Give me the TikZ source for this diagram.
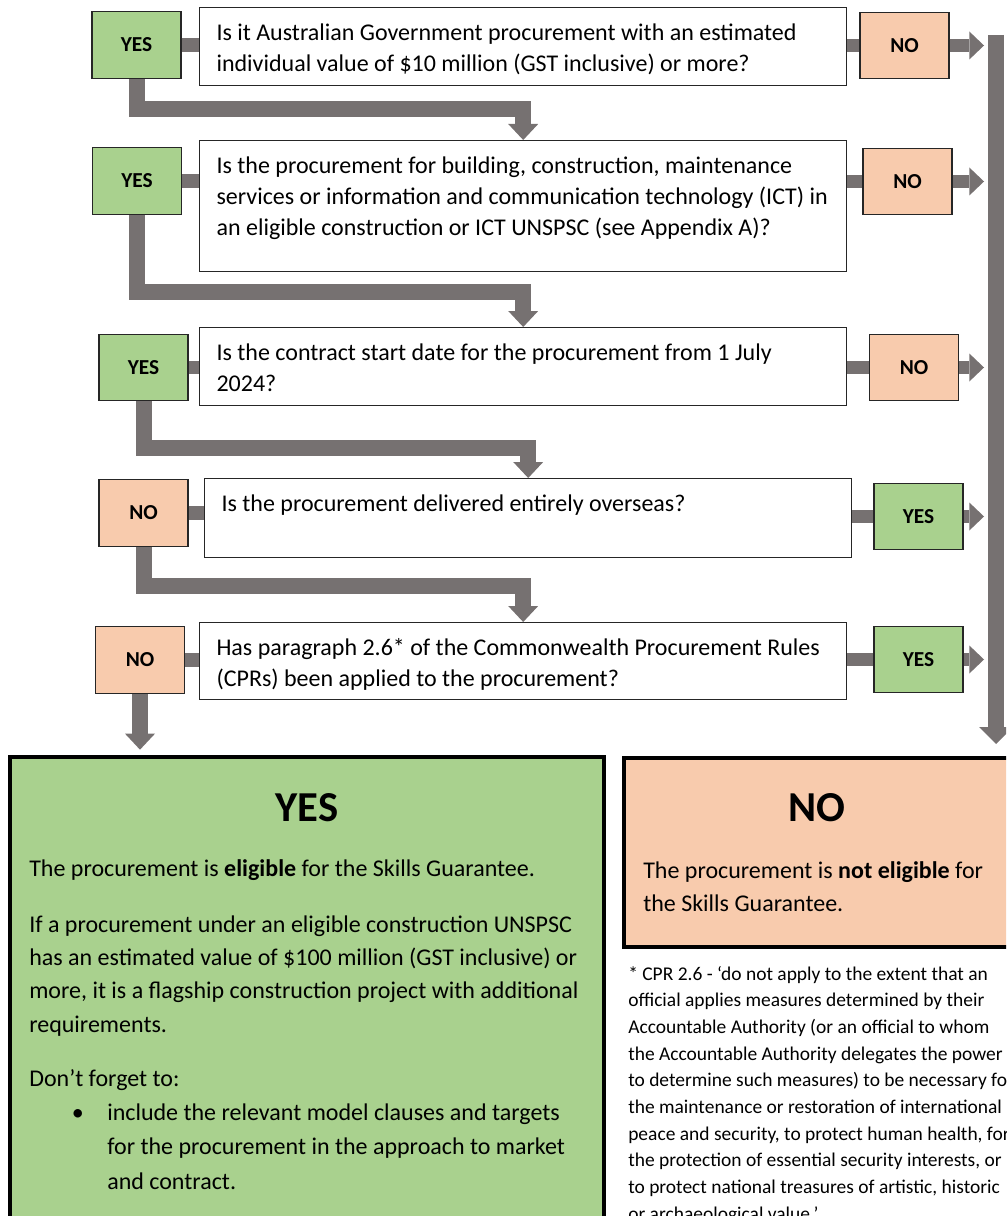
\documentclass[tikz,border=0pt]{standalone}
\usepackage{fontspec}
\setmainfont{Carlito}
\usetikzlibrary{arrows.meta}

\definecolor{yesgreen}{HTML}{A9D18E}
\definecolor{nopeach}{HTML}{F8CBAD}
\definecolor{flowgrey}{HTML}{767171}

\newcommand{\question}[2]{\parbox[t][#1][t]{460pt}{\rule{0pt}{24.5pt}#2}}

\tikzset{
  answer/.style={draw=black!85, line width=0.8pt, minimum width=66.75pt, minimum height=50pt,
    inner sep=0pt, font=\fontsize{16}{18}\selectfont\bfseries},
  yesbox/.style={answer, fill=yesgreen},
  nobox/.style={answer, fill=nopeach},
  qbox/.style={draw=black!85, line width=0.8pt, fill=white, anchor=north west,
    inner xsep=12.75pt, inner ysep=0pt, font=\fontsize{18}{23.5}\selectfont},
  link/.style={draw=flowgrey, line width=10pt},
  flow/.style={draw=flowgrey, line width=12pt, line join=miter,
    -{Triangle[width=22.5pt,length=12pt,line width=0pt]}},
  exit/.style={draw=flowgrey, line width=10pt,
    -{Triangle[width=21pt,length=11pt,line width=0pt]}, shorten >=9pt},
  bar/.style={draw=flowgrey, line width=12pt,
    -{Triangle[width=25.5pt,length=12.75pt,line width=0pt]}, shorten >=9pt},
  result/.style={draw=black, line width=3pt, inner sep=0pt},
  bigtitle/.style={font=\fontsize{32}{36}\selectfont\bfseries},
  bodytext/.style={align=flush left, inner sep=0pt, anchor=base west, font=\fontsize{18}{25}\selectfont},
  notetext/.style={align=flush left, inner sep=0pt, anchor=base west, font=\fontsize{14.6}{20}\selectfont}
}

\begin{document}
\begin{tikzpicture}[x=0.75pt, y=-0.75pt]
  \useasboundingbox (0,0) rectangle (1006,1216);
  \clip (0,0) rectangle (1006,1216);

  \coordinate (bartop) at (996,35);

  % questions
  \node[qbox] (q1) at (199,7) {\question{58.5pt}{Is it Australian Government procurement with an estimated\\
    individual value of \$10 million (GST inclusive) or more?}};
  \node[qbox] (q2) at (199,140) {\question{98.25pt}{Is the procurement for building, construction, maintenance\\
    services or information and communication technology (ICT) in\\
    an eligible construction or ICT UNSPSC (see Appendix A)?}};
  \node[qbox] (q3) at (199,327) {\question{58.5pt}{Is the contract start date for the procurement from 1 July\\
    2024?}};
  \node[qbox] (q4) at (204,478) {\question{59.25pt}{Is the procurement delivered entirely overseas?}};
  \node[qbox] (q5) at (199,622) {\question{57.75pt}{Has paragraph 2.6* of the Commonwealth Procurement Rules\\
    (CPRs) been applied to the procurement?}};

  % answers
  \node[yesbox] (y1) at (136.5,45) {YES};
  \node[yesbox] (y2) at (137,181) {YES};
  \node[yesbox] (y3) at (143.5,367.5) {YES};
  \node[nobox] (n4) at (143.5,513) {NO};
  \node[nobox] (n5) at (140,660) {NO};

  \node[nobox] (n1) at (904.5,45.5) {NO};
  \node[nobox] (n2) at (907.5,181.5) {NO};
  \node[nobox] (n3) at (914,367.5) {NO};
  \node[yesbox] (y4) at (918.5,516.5) {YES};
  \node[yesbox] (y5) at (918.5,659.5) {YES};

  % outcomes
  \node[result, fill=yesgreen, minimum width=445.5pt, minimum height=360.75pt] (yesbig) at (307,997.5) {};
  \node[result, fill=nopeach, minimum width=303pt, minimum height=141.75pt] (nobig) at (826,852.5) {};

  \node[bigtitle] (yestitle) at (307,808) {YES};
  \node[bigtitle] (notitle) at (817,808) {NO};

  \node[bodytext, text width=440pt] (yestext) at (29,876) {The procurement is \textbf{eligible} for the Skills Guarantee.\\[17pt]
    If a procurement under an eligible construction UNSPSC\\
    has an estimated value of \$100 million (GST inclusive) or\\
    more, it is a flagship construction project with additional\\
    requirements.\\[16pt]
    Don’t forget to:\\
    \hspace*{32pt}\makebox[26.5pt][l]{\textbullet}include the relevant model clauses and targets\\[1pt]
    \hspace*{58.5pt}for the procurement in the approach to market\\[1pt]
    \hspace*{58.5pt}and contract.};
  \node[bodytext, text width=280pt] (notext) at (643,878) {The procurement is \textbf{not eligible} for\\
    the Skills Guarantee.};

  \node[notetext, text width=340pt] (note) at (628,980) {* CPR 2.6 - ‘do not apply to the extent that an\\
    official applies measures determined by their\\
    Accountable Authority (or an official to whom\\
    the Accountable Authority delegates the power\\
    to determine such measures) to be necessary for\\
    the maintenance or restoration of international\\
    peace and security, to protect human health, for\\
    the protection of essential security interests, or\\
    to protect national treasures of artistic, historic\\
    or archaeological value.’};

  % connectors
  \draw[link] (y1.east) -- (y1.east -| q1.west);
  \draw[link] (y2.east) -- (y2.east -| q2.west);
  \draw[link] (y3.east) -- (y3.east -| q3.west);
  \draw[link] (n4.east) -- (n4.east -| q4.west);
  \draw[link] (n5.east) -- (n5.east -| q5.west);

  \draw[link] (n1.west -| q1.east) -- (n1.west);
  \draw[link] (n2.west -| q2.east) -- (n2.west);
  \draw[link] (n3.west -| q3.east) -- (n3.west);
  \draw[link] (y4.west -| q4.east) -- (y4.west);
  \draw[link] (y5.west -| q5.east) -- (y5.west);

  \draw[exit] (n1.east) -- (n1.east -| bartop);
  \draw[exit] (n2.east) -- (n2.east -| bartop);
  \draw[exit] (n3.east) -- (n3.east -| bartop);
  \draw[exit] (y4.east) -- (y4.east -| bartop);
  \draw[exit] (y5.east) -- (y5.east -| bartop);

  \draw[flow] (y1.south) -- ++(0,30) -| (q2.north);
  \draw[flow] (y2.south) -- ++(0,77) -| (q3.north);
  \draw[flow] (y3.south) -- ++(0,47) -| (q4.north);
  \draw[flow] (n4.south) -- ++(0,39.5) -| (q5.north);
  \draw[flow, shorten >=4pt] (n5.south) -- (n5.south |- yesbig.north);

  \draw[bar] (bartop) -- (bartop |- nobig.north);
\end{tikzpicture}
\end{document}
